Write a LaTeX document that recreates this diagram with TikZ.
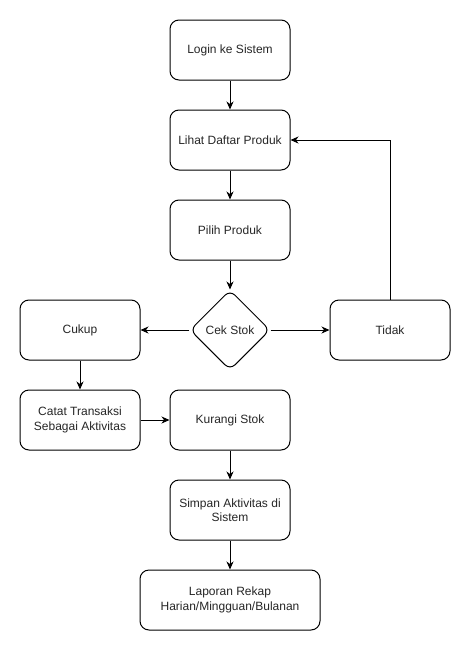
\documentclass[tikz,border=0pt]{standalone}
\usepackage{fontspec}
\setmainfont{Liberation Sans}
\usetikzlibrary{shapes.geometric,arrows.meta}
\begin{document}
\begin{tikzpicture}[x=1pt,y=-1pt,
  box/.style={draw=black,fill=white,line width=1pt,rounded corners=9pt,
    minimum width=120pt,minimum height=60pt,align=center,inner sep=2pt,
    font=\fontsize{12}{14.5}\selectfont,text=black!85},
  dec/.style={draw=black,fill=white,line width=1pt,diamond,rounded corners=7pt,
    minimum width=80pt,minimum height=80pt,inner sep=0pt,aspect=1,
    font=\fontsize{12}{14.5}\selectfont,text=black!85},
  arr/.style={-{Stealth[length=8pt,width=7pt,inset=2.5pt]},line width=1pt}]
\useasboundingbox (0,0) rectangle (471,651);
\node[box] (login) at (230,50) {Login ke Sistem};
\node[box] (lihat) at (230,140) {Lihat Daftar Produk};
\node[box] (pilih) at (230,230) {Pilih Produk};
\node[dec] (cek) at (230,330) {Cek Stok};
\node[box] (cukup) at (80,330) {Cukup};
\node[box] (tidak) at (390,330) {Tidak};
\node[box] (catat) at (80,420) {Catat Transaksi\\Sebagai Aktivitas};
\node[box] (kurangi) at (230,420) {Kurangi Stok};
\node[box] (simpan) at (230,510) {Simpan Aktivitas di\\Sistem};
\node[box,minimum width=180pt] (lapor) at (230,600) {Laporan Rekap\\Harian/Mingguan/Bulanan};
\draw[arr] (login) -- (lihat);
\draw[arr] (lihat) -- (pilih);
\draw[arr] (pilih) -- (cek);
\draw[arr] (cek) -- (cukup);
\draw[arr] (cek) -- (tidak);
\draw[arr] (tidak.north) |- (lihat.east);
\draw[arr] (cukup) -- (catat);
\draw[arr] (catat) -- (kurangi);
\draw[arr] (kurangi) -- (simpan);
\draw[arr] (simpan) -- (lapor);
\end{tikzpicture}
\end{document}
